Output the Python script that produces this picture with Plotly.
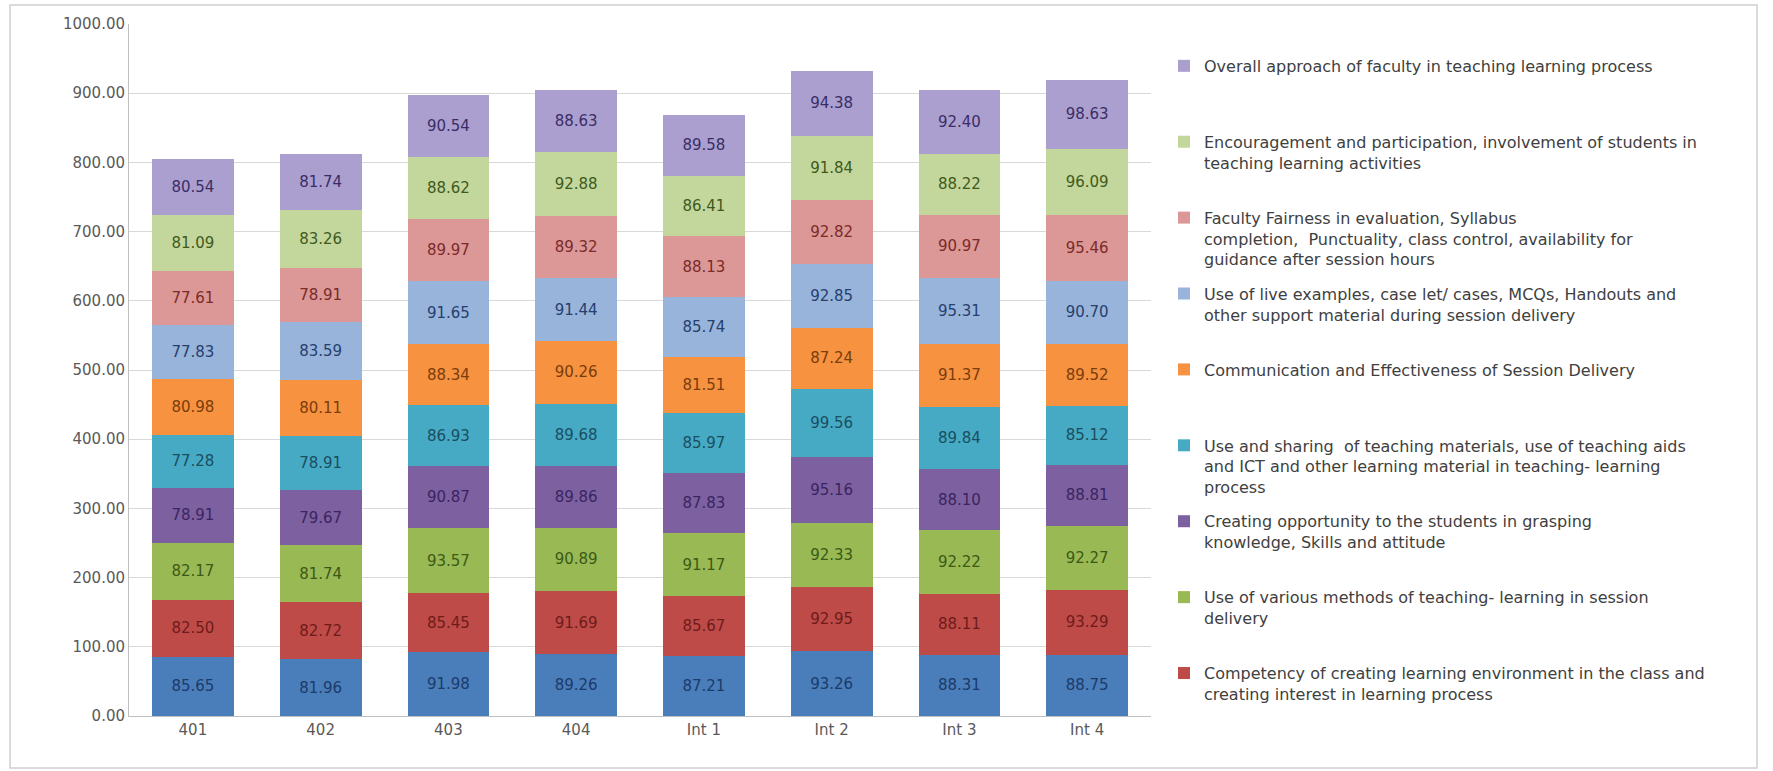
import plotly.graph_objects as go

categories = ["401", "402", "403", "404", "Int 1", "Int 2", "Int 3", "Int 4"]

s_blue = [85.65, 81.96, 91.98, 89.26, 87.21, 93.26, 88.31, 88.75]
s_competency = [82.50, 82.72, 85.45, 91.69, 85.67, 92.95, 88.11, 93.29]
s_methods = [82.17, 81.74, 93.57, 90.89, 91.17, 92.33, 92.22, 92.27]
s_opportunity = [78.91, 79.67, 90.87, 89.86, 87.83, 95.16, 88.10, 88.81]
s_sharing = [77.28, 78.91, 86.93, 89.68, 85.97, 99.56, 89.84, 85.12]
s_communication = [80.98, 80.11, 88.34, 90.26, 81.51, 87.24, 91.37, 89.52]
s_live = [77.83, 83.59, 91.65, 91.44, 85.74, 92.85, 95.31, 90.70]
s_fairness = [77.61, 78.91, 89.97, 89.32, 88.13, 92.82, 90.97, 95.46]
s_encourage = [81.09, 83.26, 88.62, 92.88, 86.41, 91.84, 88.22, 96.09]
s_overall = [80.54, 81.74, 90.54, 88.63, 89.58, 94.38, 92.40, 98.63]

series_names = [
    "",
    "Competency of creating learning environment in the class and<br>creating interest in learning process",
    "Use of various methods of teaching- learning in session<br>delivery",
    "Creating opportunity to the students in grasping<br>knowledge, Skills and attitude",
    "Use and sharing  of teaching materials, use of teaching aids<br>and ICT and other learning material in teaching- learning<br>process",
    "Communication and Effectiveness of Session Delivery",
    "Use of live examples, case let/ cases, MCQs, Handouts and<br>other support material during session delivery",
    "Faculty Fairness in evaluation, Syllabus<br>completion,  Punctuality, class control, availability for<br>guidance after session hours",
    "Encouragement and participation, involvement of students in<br>teaching learning activities",
    "Overall approach of faculty in teaching learning process",
]
series_values = [s_blue, s_competency, s_methods, s_opportunity, s_sharing,
                 s_communication, s_live, s_fairness, s_encourage, s_overall]
bar_colors = ["#4a7ebb", "#be4b48", "#98b954", "#7d60a0", "#46aac5",
              "#f69240", "#98b4da", "#dc9896", "#c3d69b", "#ab9fcf"]
label_colors = ["#1c3a6a", "#6e1c1a", "#3c5a16", "#3a2560", "#1a4e60",
                "#7a3d0c", "#26406e", "#7a2b2a", "#3f5a1c", "#3a2d66"]

FONT = "DejaVu Sans"
LEGEND_LINES = 3

fig = go.Figure()
for i, (name, vals) in enumerate(zip(series_names, series_values)):
    n_lines = name.count("<br>") + 1
    padded = name + "<br>\u00a0" * (LEGEND_LINES - n_lines)
    fig.add_trace(go.Bar(
        x=categories, y=vals, name=padded,
        marker=dict(color=bar_colors[i], line=dict(width=0)),
        text=[f"{v:.2f}" for v in vals],
        textposition="inside", insidetextanchor="middle", textangle=0,
        constraintext="none",
        textfont=dict(family=FONT, size=15, color=label_colors[i]),
        showlegend=(i != 0), legendgroup=f"g{i}",
        legendrank=100 - i,
        hoverinfo="x+y",
    ))

fig.update_layout(
    barmode="stack", bargap=0.36,
    width=1773, height=771,
    margin=dict(l=129, r=622, t=24, b=55),
    paper_bgcolor="white", plot_bgcolor="white",
    font=dict(family=FONT, size=15, color="#595959"),
    legend=dict(
        traceorder="grouped", tracegroupgap=10.5,
        x=1.0127, xanchor="left", y=0.964, yanchor="top",
        valign="top", font=dict(family=FONT, size=16, color="#404040"),
        bgcolor="rgba(0,0,0,0)",
    ),
    yaxis=dict(range=[0, 1000], dtick=100, tickformat=".2f",
               showgrid=True, gridcolor="#d9d9d9", gridwidth=1,
               showline=True, linecolor="#bfbfbf", linewidth=1,
               zeroline=False, ticks="", ticklen=0,
               tickfont=dict(family=FONT, size=15, color="#595959")),
    xaxis=dict(showline=True, linecolor="#bfbfbf", linewidth=1,
               ticks="", tickfont=dict(family=FONT, size=15, color="#595959")),
    shapes=[dict(type="rect", xref="paper", yref="paper",
                 x0=-0.1164, x1=1.593, y0=-0.0751, y1=1.0275,
                 line=dict(color="#cfcfcf", width=1.5), layer="below")],
)

fig.write_html("out.html")
